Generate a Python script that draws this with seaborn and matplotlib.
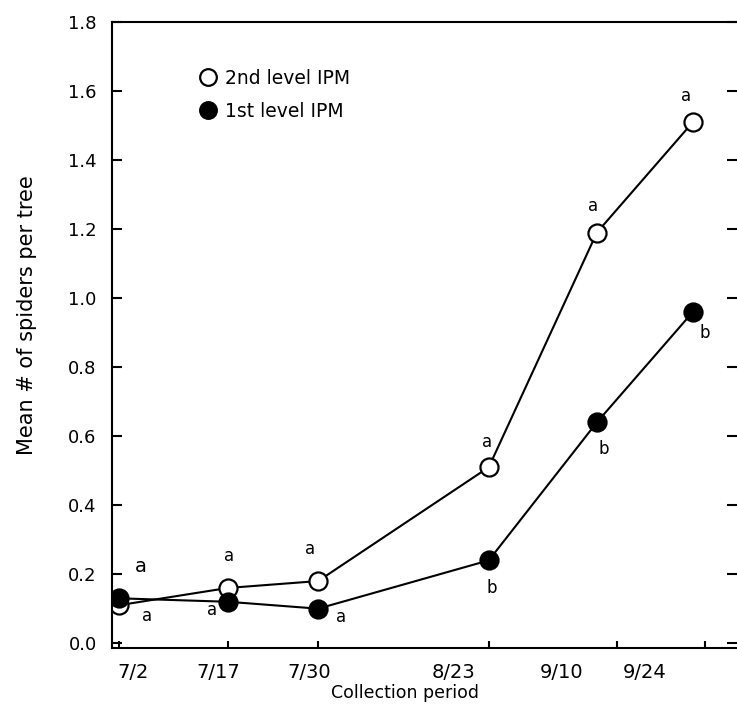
import matplotlib
matplotlib.use("Agg")
import numpy as np
import pandas as pd
import matplotlib.pyplot as plt
from matplotlib.lines import Line2D
import seaborn as sns

# ---- data (days after 2 July) ----
days = [0, 15.3, 28, 52, 67.2, 80.7]
second_level = [0.11, 0.16, 0.18, 0.51, 1.19, 1.51]
first_level = [0.13, 0.12, 0.10, 0.24, 0.64, 0.96]
second_letters = ["a", "a", "a", "a", "a", "a"]
first_letters = ["a", "a", "a", "b", "b", "b"]
tick_days = [0, 15.3, 28, 52, 70, 82.4]
label_days = [2.0, 13.9, 26.8, 47.1, 62.3, 73.9]
tick_labels = ["7/2", "7/17", "7/30", "8/23", "9/10", "9/24"]
y_ticks = [0.0, 0.2, 0.4, 0.6, 0.8, 1.0, 1.2, 1.4, 1.6, 1.8]
series_names = ["2nd level IPM", "1st level IPM"]

sns.set_style("ticks")
plt.rcParams["font.family"] = ["DejaVu Sans"]
plt.rcParams["text.color"] = "black"
plt.rcParams["axes.labelcolor"] = "black"
plt.rcParams["xtick.color"] = "black"
plt.rcParams["ytick.color"] = "black"
plt.rcParams["axes.edgecolor"] = "black"

fig = plt.figure(figsize=(7.37, 7.15), dpi=100)
ax = fig.add_axes([0.152, 0.0937, 0.848, 0.8755])

df2 = pd.DataFrame({"day": days, "val": second_level})
df1 = pd.DataFrame({"day": days, "val": first_level})

sns.lineplot(data=df2, x="day", y="val", ax=ax, color="black", lw=1.5,
             marker="o", markersize=13, markerfacecolor="white",
             markeredgecolor="black", markeredgewidth=1.6, zorder=2)
sns.lineplot(data=df1, x="day", y="val", ax=ax, color="black", lw=1.5,
             marker="o", markersize=13, markerfacecolor="black",
             markeredgecolor="black", markeredgewidth=1.6, zorder=3)

# significance letters (offsets in pixels)
off2 = [(22, 39), (1, 32), (-8, 32), (-2, 25), (-4, 27), (-7, 26)]
off1 = [(28, -18), (-16, -8), (23, -8), (3, -28), (7, -27), (12, -21)]
for i, (x, y) in enumerate(zip(days, second_level)):
    ax.annotate(second_letters[i], (x, y), xytext=off2[i], textcoords="offset pixels",
                ha="center", va="center", fontsize=14 if i == 0 else 12)
for i, (x, y) in enumerate(zip(days, first_level)):
    ax.annotate(first_letters[i], (x, y), xytext=off1[i], textcoords="offset pixels",
                ha="center", va="center", fontsize=12)

ax.set_xlim(-0.98, 86.9)
ax.set_ylim(-0.014, 1.8)

ax.set_xticks(label_days)
ax.set_xticklabels(tick_labels)
ax.set_xticks(tick_days, minor=True)
ax.tick_params(axis="x", which="major", length=0, pad=11, labelsize=14)
ax.tick_params(axis="x", which="minor", direction="in", length=5, width=1.5,
               bottom=True, top=False)

ax.set_yticks(y_ticks)
ax.set_yticklabels([f"{v:.1f}" for v in y_ticks])
ax.tick_params(axis="y", which="major", direction="in", length=7, width=1.5,
               left=True, right=True, pad=11, labelsize=13)

for s in ["left", "bottom", "top"]:
    ax.spines[s].set_linewidth(1.5)
ax.spines["right"].set_visible(False)

ax.set_xlabel("Collection period", fontsize=12.5)
ax.set_ylabel("Mean # of spiders per tree", fontsize=15)
ax.xaxis.set_label_coords(0.469, -0.057)
ax.yaxis.set_label_coords(-0.12, 0.532)

handles = [
    Line2D([], [], marker="o", ls="none", markersize=12, markerfacecolor="white",
           markeredgecolor="black", markeredgewidth=1.6),
    Line2D([], [], marker="o", ls="none", markersize=12, markerfacecolor="black",
           markeredgecolor="black", markeredgewidth=1.6),
]
ax.legend(handles, series_names, loc="upper left", bbox_to_anchor=(0.12, 0.94),
          frameon=False, fontsize=13.5, handletextpad=0.3, labelspacing=0.75,
          borderpad=0, handlelength=1.2)

fig.savefig("out.png", dpi=100)
